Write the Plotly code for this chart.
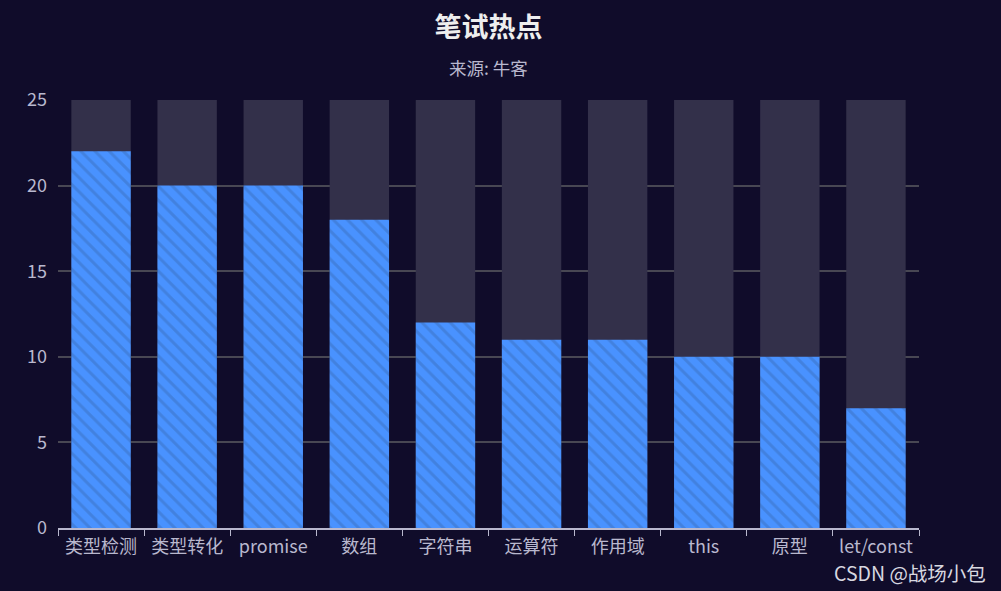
import plotly.graph_objects as go

categories = ["类型检测", "类型转化", "promise", "数组", "字符串", "运算符", "作用域", "this", "原型", "let/const"]
values = [22, 20, 20, 18, 12, 11, 11, 10, 10, 7]
background = [25] * len(categories)

font_family = "Noto Sans CJK SC, Noto Sans, sans-serif"

W, H = 1001, 591
ML, MR, MT, MB = 58, 82, 100, 63
plot_w = W - ML - MR
plot_h = H - MT - MB

def xpaper(px):
    return (px - ML) / plot_w

def ypaper(py):
    return (H - MB - py) / plot_h

fig = go.Figure()
fig.add_trace(go.Bar(
    x=categories, y=background,
    marker=dict(color="#33304a", line=dict(width=0)),
    hoverinfo="skip", showlegend=False,
))
fig.add_trace(go.Bar(
    x=categories, y=values,
    marker=dict(
        color="#4992ff",
        line=dict(width=0),
        pattern=dict(shape="\\", fgcolor="#3b70c0", bgcolor="#4992ff", size=10, solidity=0.3),
    ),
    showlegend=False,
))

fig.update_layout(
    width=W, height=H,
    paper_bgcolor="#100c2a", plot_bgcolor="#100c2a",
    barmode="overlay", bargap=0.31,
    margin=dict(l=ML, r=MR, t=MT, b=MB),
    font=dict(family=font_family, color="#b9b8ce"),
    title=dict(
        text="<b>笔试热点</b>",
        x=0.5, xanchor="center", xref="paper",
        y=1 - 28 / H, yanchor="middle", yref="container",
        font=dict(size=27, color="#eeeeee", family=font_family),
    ),
    annotations=[
        dict(text="来源: 牛客", x=0.5, xref="paper", y=ypaper(67), yref="paper", yanchor="middle",
             showarrow=False, font=dict(size=17.5, color="#b9b8ce")),
        dict(text="CSDN @战场小包", x=xpaper(988), xanchor="right", y=ypaper(572), yanchor="middle",
             yref="paper", xref="paper",
             showarrow=False, font=dict(size=19.5, color="#d8d8e0")),
    ],
    xaxis=dict(
        showgrid=False, showline=True, linecolor="#b9b8ce", linewidth=1.5,
        ticks="outside", ticklen=6, tickcolor="#b9b8ce", tickson="boundaries",
        tickfont=dict(size=18, color="#b9b8ce"), ticklabelstandoff=2,
    ),
    yaxis=dict(
        range=[0, 25], dtick=5, showgrid=True, gridcolor="#484753", gridwidth=1.5,
        zeroline=False, showline=False,
        tickfont=dict(size=18, color="#b9b8ce"), ticklabelstandoff=10,
    ),
)

fig.write_html("out.html", config={"displayModeBar": False},
               post_script="document.body.style.margin='0';document.body.style.overflow='hidden';")
